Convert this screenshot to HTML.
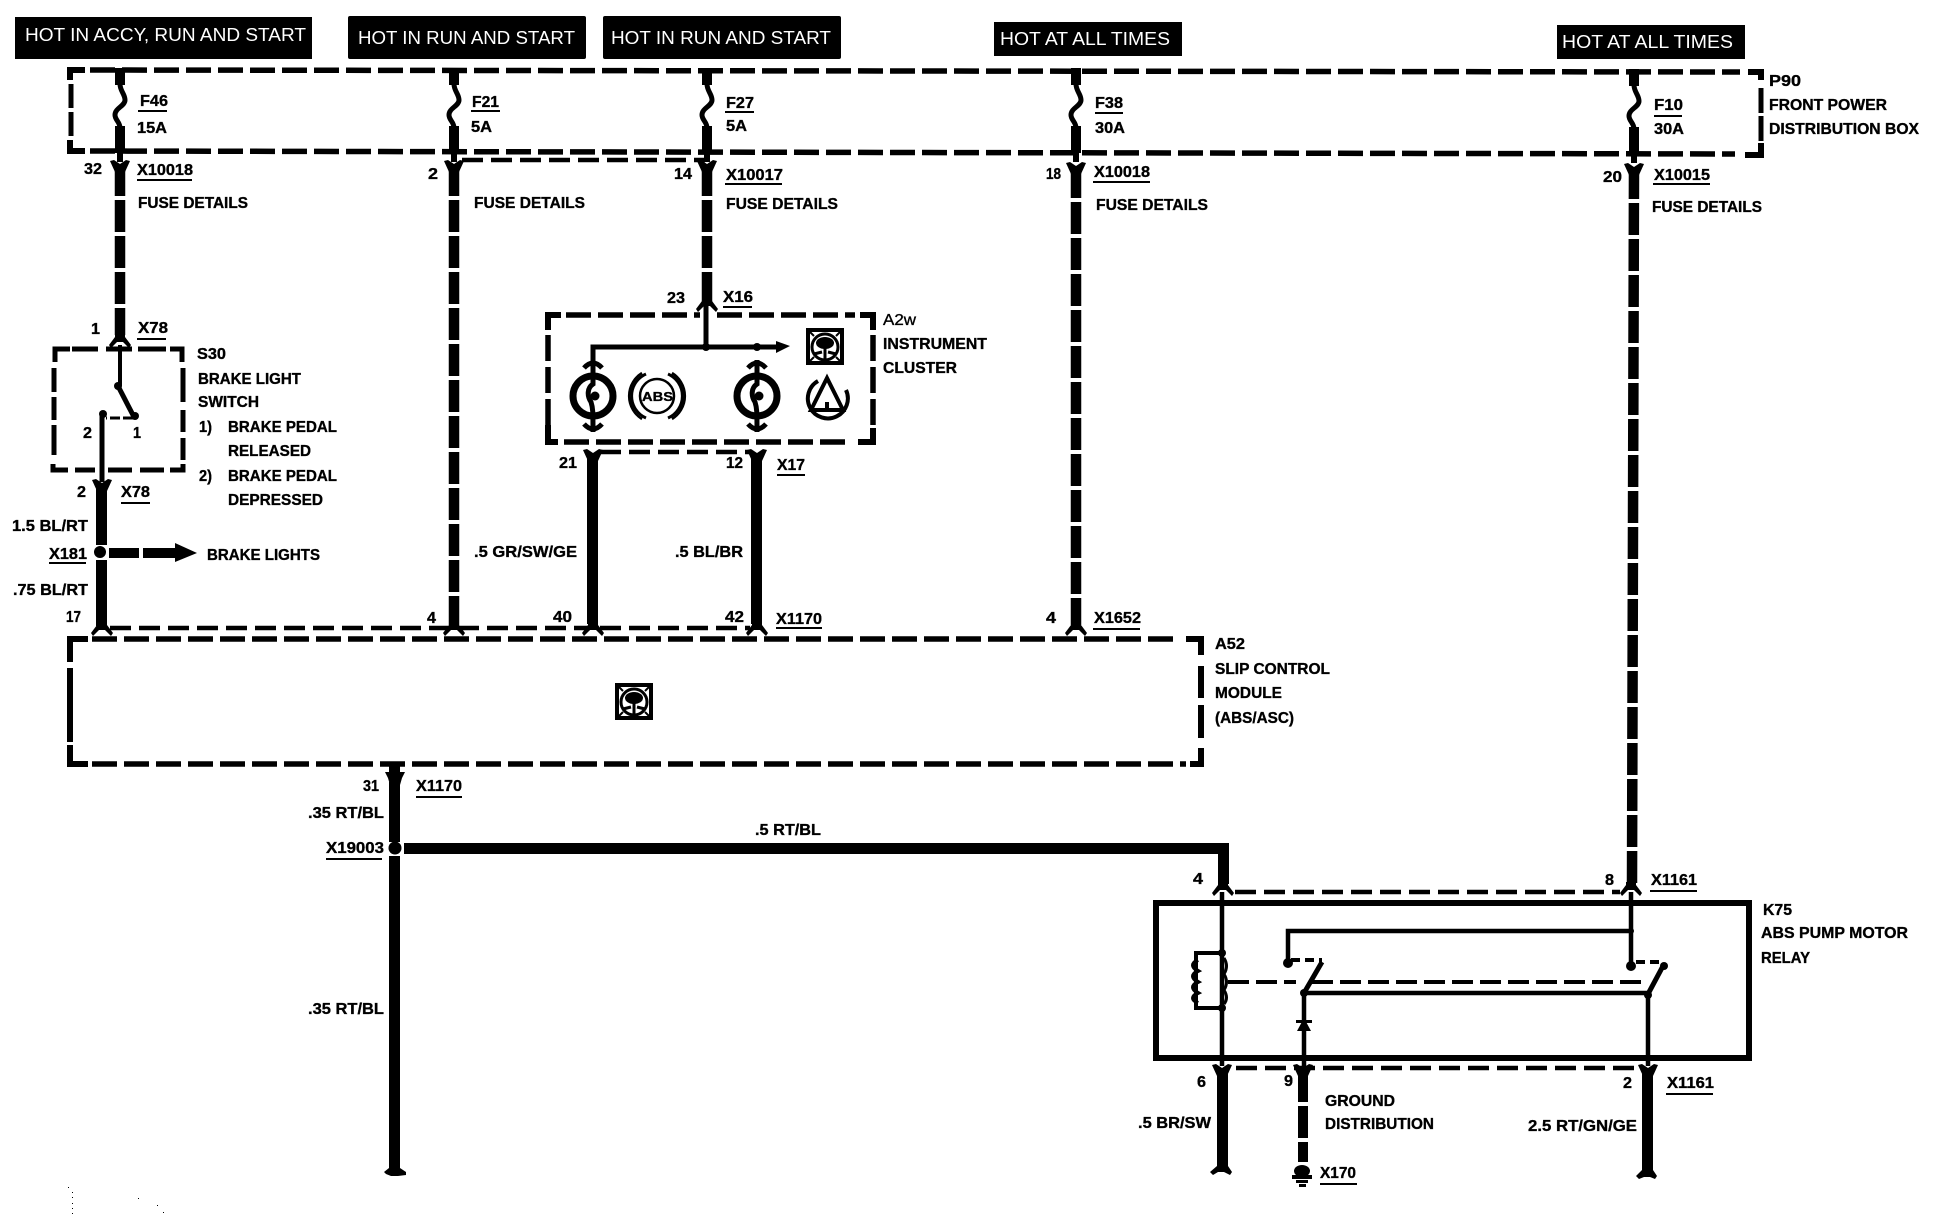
<!DOCTYPE html>
<html><head><meta charset="utf-8"><style>
html,body{margin:0;padding:0;background:#fff}
svg{display:block}
text{font-family:"Liberation Sans",sans-serif;font-weight:bold;font-size:16px;fill:#000;stroke:#000;stroke-width:.35}
.w{font-weight:normal;font-size:18px;fill:#fff;stroke:none}
.n{fill:none;stroke:#000}
.d{fill:none;stroke:#000;stroke-width:5.5;stroke-dasharray:25 7}
.dh{fill:none;stroke:#000;stroke-width:4.5;stroke-dasharray:21 8}
.b{fill:#000}
</style></head><body>
<svg width="1942" height="1216" viewBox="0 0 1942 1216" xmlns="http://www.w3.org/2000/svg">
<defs>
<g id="fuse">
<rect class="b" x="-5" y="68" width="10" height="17"/>
<path class="n" stroke-width="5" d="M0,84C0,91 5,94 5,100C5,106 -5,108 -5,115C-5,120 0,122 0,128"/>
<rect class="b" x="-5" y="126" width="10" height="27"/>
<rect class="b" x="-3" y="152" width="6" height="10"/>
</g>
<path id="fy" class="b" d="M-10,-4L-6,-5L0,-1L6,-5L10,-4L5,7L-5,7Z"/>
<path id="fu" class="b" d="M-5,-8L5,-8L5,-5L11,3L9,6L3,0L-3,0L-9,6L-11,3L-5,-5Z"/>
<g id="wheel">
<rect x="-17" y="-16" width="34" height="33" fill="#fff" stroke="#000" stroke-width="4"/>
<circle cx="0" cy="1" r="13" fill="none" stroke="#000" stroke-width="3"/>
<ellipse class="b" cx="0" cy="-3" rx="9" ry="6"/>
<path class="n" stroke-width="3" d="M0,2V14M-11,8L-3,6M11,8L3,6"/>
<path class="n" stroke-width="2" d="M-17,-16L-11,-10M17,-16L11,-10M-17,17L-11,11M17,17L11,11"/>
</g>
<g id="bulb">
<circle cx="0" cy="0" r="20" fill="none" stroke="#000" stroke-width="7"/>
<circle class="b" cx="2" cy="0" r="4.5"/>
<path class="n" stroke-width="5" d="M0,-36V-12C-6,-8 -6,0 -2,6C0,12 0,16 0,36"/>
<path class="n" stroke-width="5" d="M-9,-28Q0,-38 9,-28M-9,28Q0,38 9,28"/>
</g>
</defs>
<!-- banners -->
<rect class="b" x="15" y="17" width="297" height="42"/>
<rect class="b" x="348" y="16" width="238" height="43" rx="2"/>
<rect class="b" x="603" y="16" width="238" height="43" rx="2"/>
<rect class="b" x="994" y="22" width="188" height="34"/>
<rect class="b" x="1557" y="25" width="188" height="34"/>
<text class="w" x="25" y="41" textLength="281" lengthAdjust="spacingAndGlyphs">HOT IN ACCY, RUN AND START</text>
<text class="w" x="358" y="44" textLength="217" lengthAdjust="spacingAndGlyphs">HOT IN RUN AND START</text>
<text class="w" x="611" y="44" textLength="220" lengthAdjust="spacingAndGlyphs">HOT IN RUN AND START</text>
<text class="w" x="1000" y="45" textLength="170" lengthAdjust="spacingAndGlyphs">HOT AT ALL TIMES</text>
<text class="w" x="1562" y="48" textLength="171" lengthAdjust="spacingAndGlyphs">HOT AT ALL TIMES</text>

<!-- P90 box -->
<path class="d" d="M90,70L1740,72"/>
<path class="d" d="M90,151L1735,154"/>
<path class="n" stroke-width="6" d="M85,70H70V80M70,140V151H85M1748,72H1761V80M1761,143V155H1745"/>
<path class="n" stroke-width="5" d="M71,84V108M71,112V136M1761,88V113M1761,116V141"/>

<!-- fuses -->
<use href="#fuse" x="120"/><use href="#fuse" x="454"/><use href="#fuse" x="707"/><use href="#fuse" x="1076"/><use href="#fuse" x="1634" y="1"/>
<use href="#fy" x="120" y="165"/><use href="#fy" x="454" y="165"/><use href="#fy" x="707" y="165"/><use href="#fy" x="1076" y="167"/><use href="#fy" x="1634" y="168"/>
<path class="dh" d="M462,160H705"/>

<!-- long dashed wires -->
<g class="n" stroke-width="10.5" stroke-dasharray="32 4">
<path d="M120,164V335"/>
<path d="M454,164V625"/>
<path d="M707,164V302"/>
<path d="M1076,166V625"/>
<path d="M1634,167L1632,885"/>
</g>
<use href="#fu" x="120" y="342"/><use href="#fu" x="707" y="306"/><use href="#fu" x="102" y="630"/><use href="#fu" x="454" y="630"/><use href="#fu" x="593" y="630"/><use href="#fu" x="757" y="630"/><use href="#fu" x="1076" y="630"/>

<!-- S30 switch -->
<path class="n" stroke-width="5" d="M72,349H98M106,349H132M138,349H166"/>
<path class="n" stroke-width="5" d="M70,349H55V362M170,349H182V362M53,464V470H68M183,464V470H170"/>
<path class="n" stroke-width="5" d="M54,368V392M54,397V420M54,425V455M183,368V402M183,410V432M183,438V460M75,470H95M108,470H132M140,470H164"/>
<path class="n" stroke-width="4" d="M120,345V386"/>
<circle class="b" cx="118" cy="386" r="4"/>
<path class="n" stroke-width="5" d="M118,386L134,417"/>
<circle class="b" cx="135" cy="416" r="4"/>
<path class="n" stroke-width="3" stroke-dasharray="10 3" d="M133,418H106"/>
<circle class="b" cx="103" cy="414" r="4"/>
<path class="n" stroke-width="5" d="M102,414V482"/>
<use href="#fy" x="102" y="484"/>
<rect class="b" x="96" y="485" width="11" height="60"/>
<circle class="b" cx="100" cy="552" r="6"/>
<rect class="b" x="96" y="560" width="11" height="66"/>
<rect class="b" x="109" y="548" width="30" height="10"/><rect class="b" x="143" y="548" width="32" height="10"/>
<path class="b" d="M175,543L197,553L175,562Z"/>

<!-- harness -->
<path class="dh" d="M110,628H590"/>
<path class="dh" d="M600,628H750"/>
<path class="dh" d="M600,452H750"/>

<!-- A2w -->
<path class="n" stroke-width="6" d="M561,315H548V330M860,315H873V330M548,425V442H558M873,428V442H858"/>
<path class="d" d="M566,315H700M717,315H855"/>
<path class="d" d="M564,442H852"/>
<path class="n" stroke-width="5.5" d="M548,335V425M873,335V425" stroke-dasharray="26 6"/>
<path class="n" stroke-width="5" d="M706,305V347M593,360V347H777"/>
<circle class="b" cx="706" cy="347" r="4"/>
<circle class="b" cx="757" cy="347" r="4"/>
<path class="b" d="M776,341L790,346L776,353Z"/>
<use href="#bulb" x="593" y="396"/><use href="#bulb" x="757" y="396"/>
<circle cx="657" cy="396" r="17" fill="none" stroke="#000" stroke-width="2.5"/>
<path class="n" stroke-width="3" d="M646,374A24,24 0 0 0 646,418M668,374A24,24 0 0 1 668,418"/>
<path class="n" stroke-width="2.5" d="M642,373A27,27 0 0 0 642,419M672,373A27,27 0 0 1 672,419"/>
<text x="642" y="401" style="font-size:13px" textLength="31" lengthAdjust="spacingAndGlyphs">ABS</text>
<use href="#wheel" x="825" y="346"/>
<path class="n" stroke-width="4" d="M818,381A20,20 0 1 0 846,390"/>
<path class="n" stroke-width="4" d="M827,378L811,410H843Z"/>
<rect class="b" x="825" y="402" width="4" height="6"/>
<use href="#fy" x="593" y="454"/><use href="#fy" x="757" y="454"/>
<rect class="b" x="587" y="458" width="11" height="166"/>
<rect class="b" x="751" y="458" width="11" height="166"/>

<!-- A52 -->
<path class="n" stroke-width="6" d="M88,639H70V662M1186,639H1201V655M70,745V764H88M1201,748V764H1190"/>
<path class="d" d="M92,639H1180"/>
<path class="d" d="M92,764H1186"/>
<path class="n" stroke-width="6" d="M70,668V742M1201,666V698M1201,705V738"/>
<use href="#wheel" x="634" y="701"/>
<rect class="b" x="389" y="764" width="11" height="8"/>
<path class="b" d="M385,772L405,772L402,778L400,785H390L388,778Z"/>
<rect class="b" x="389" y="782" width="11" height="60"/>
<circle class="b" cx="395" cy="848" r="6.5"/>
<rect class="b" x="389" y="856" width="11" height="318"/>
<path class="b" d="M384,1172L389,1168H400L406,1172L406,1175L398,1176H391L386,1174Z"/>
<rect class="b" x="404" y="843" width="825" height="11"/>
<rect class="b" x="1218" y="848" width="11" height="36"/>
<use href="#fu" x="1223" y="890"/>
<use href="#fu" x="1631" y="890"/>

<!-- K75 -->
<rect x="1156" y="903" width="593" height="155" fill="none" stroke="#000" stroke-width="6"/>
<path class="dh" d="M1235,892H1620"/>
<path class="dh" d="M1236,1068H1636"/>
<path class="n" stroke-width="4.5" d="M1222,892V1066M1631,892V966M1288,963V931H1631M1304,993V1066M1648,993V1066M1304,993H1648"/>
<path class="n" stroke-width="4" d="M1222,953H1196V1008H1222"/>
<path class="n" stroke-width="4" d="M1198,960Q1188,965 1198,971Q1188,976 1198,982Q1188,987 1198,993Q1188,998 1198,1003"/>
<path class="n" stroke-width="3" d="M1224,958Q1229,966 1224,974Q1229,982 1224,990Q1229,998 1224,1004"/>
<circle class="b" cx="1222" cy="953" r="4"/><circle class="b" cx="1222" cy="1008" r="4"/>
<circle class="b" cx="1631" cy="931" r="3"/>
<circle class="b" cx="1288" cy="963" r="5"/><circle class="b" cx="1631" cy="966" r="5"/>
<circle class="b" cx="1304" cy="993" r="4"/><circle class="b" cx="1648" cy="995" r="4"/><circle class="b" cx="1664" cy="966" r="4"/>
<path class="n" stroke-width="4" stroke-dasharray="9 5" d="M1291,960H1322M1636,962H1662"/>
<path class="n" stroke-width="5" d="M1322,962L1304,993M1663,966L1648,994"/>
<path class="n" stroke-width="4" stroke-dasharray="21 7" d="M1228,982H1296M1312,982H1642"/>
<path class="b" d="M1304,1018L1297,1031H1311Z"/>
<rect class="b" x="1296" y="1020" width="16" height="3"/>
<use href="#fy" x="1222" y="1069"/><use href="#fy" x="1303" y="1069"/><use href="#fy" x="1648" y="1069"/>
<rect class="b" x="1217" y="1072" width="11" height="100"/>
<path class="b" d="M1210,1172L1217,1166H1228L1232,1172L1230,1175L1224,1172H1218L1213,1175Z"/>
<rect class="b" x="1298" y="1072" width="10" height="30"/>
<rect class="b" x="1298" y="1106" width="10" height="32"/>
<rect class="b" x="1298" y="1142" width="10" height="20"/>
<rect class="b" x="1642" y="1072" width="11" height="104"/>
<path class="b" d="M1636,1176L1642,1170H1653L1657,1176L1655,1179L1650,1177H1644L1639,1179Z"/>
<ellipse class="b" cx="1302" cy="1171" rx="8" ry="6"/>
<rect class="b" x="1292" y="1175" width="20" height="4"/><rect class="b" x="1296" y="1180" width="12" height="3"/><rect class="b" x="1299" y="1184" width="7" height="3"/>

<!-- labels -->
<g>
<text x="140" y="106" textLength="28" lengthAdjust="spacingAndGlyphs">F46</text><rect class="b" x="138" y="110" width="29" height="2"/>
<text x="137" y="133" textLength="30" lengthAdjust="spacingAndGlyphs">15A</text>
<text x="472" y="107" textLength="27" lengthAdjust="spacingAndGlyphs">F21</text><rect class="b" x="471" y="110" width="29" height="2"/>
<text x="471" y="132" textLength="21" lengthAdjust="spacingAndGlyphs">5A</text>
<text x="726" y="108" textLength="28" lengthAdjust="spacingAndGlyphs">F27</text><rect class="b" x="725" y="111" width="29" height="2"/>
<text x="726" y="131" textLength="21" lengthAdjust="spacingAndGlyphs">5A</text>
<text x="1095" y="108" textLength="28" lengthAdjust="spacingAndGlyphs">F38</text><rect class="b" x="1095" y="112" width="28" height="2"/>
<text x="1095" y="133" textLength="30" lengthAdjust="spacingAndGlyphs">30A</text>
<text x="1654" y="110" textLength="29" lengthAdjust="spacingAndGlyphs">F10</text><rect class="b" x="1654" y="115" width="28" height="2"/>
<text x="1654" y="134" textLength="30" lengthAdjust="spacingAndGlyphs">30A</text>

<text x="84" y="174" textLength="18" lengthAdjust="spacingAndGlyphs">32</text>
<text x="137" y="175" textLength="56" lengthAdjust="spacingAndGlyphs">X10018</text><rect class="b" x="137" y="179" width="55" height="2"/>
<text x="138" y="208" textLength="110" lengthAdjust="spacingAndGlyphs">FUSE DETAILS</text>
<text x="428" y="179" textLength="10" lengthAdjust="spacingAndGlyphs">2</text>
<text x="474" y="208" textLength="111" lengthAdjust="spacingAndGlyphs">FUSE DETAILS</text>
<text x="674" y="179" textLength="18" lengthAdjust="spacingAndGlyphs">14</text>
<text x="726" y="180" textLength="57" lengthAdjust="spacingAndGlyphs">X10017</text><rect class="b" x="725" y="183" width="57" height="2"/>
<text x="726" y="209" textLength="112" lengthAdjust="spacingAndGlyphs">FUSE DETAILS</text>
<text x="1046" y="179" textLength="15" lengthAdjust="spacingAndGlyphs">18</text>
<text x="1094" y="177" textLength="56" lengthAdjust="spacingAndGlyphs">X10018</text><rect class="b" x="1093" y="181" width="57" height="2"/>
<text x="1096" y="210" textLength="112" lengthAdjust="spacingAndGlyphs">FUSE DETAILS</text>
<text x="1603" y="182" textLength="19" lengthAdjust="spacingAndGlyphs">20</text>
<text x="1654" y="180" textLength="56" lengthAdjust="spacingAndGlyphs">X10015</text><rect class="b" x="1653" y="183" width="57" height="2"/>
<text x="1652" y="212" textLength="110" lengthAdjust="spacingAndGlyphs">FUSE DETAILS</text>

<text x="1769" y="86" textLength="32" lengthAdjust="spacingAndGlyphs">P90</text>
<text x="1769" y="110" textLength="118" lengthAdjust="spacingAndGlyphs">FRONT POWER</text>
<text x="1769" y="134" textLength="150" lengthAdjust="spacingAndGlyphs">DISTRIBUTION BOX</text>

<text x="91" y="334" textLength="9" lengthAdjust="spacingAndGlyphs">1</text>
<text x="138" y="333" textLength="30" lengthAdjust="spacingAndGlyphs">X78</text><rect class="b" x="137" y="338" width="29" height="2"/>
<text x="197" y="359" textLength="29" lengthAdjust="spacingAndGlyphs">S30</text>
<text x="198" y="384" textLength="103" lengthAdjust="spacingAndGlyphs">BRAKE LIGHT</text>
<text x="198" y="407" textLength="61" lengthAdjust="spacingAndGlyphs">SWITCH</text>
<text x="199" y="432" textLength="13" lengthAdjust="spacingAndGlyphs">1)</text>
<text x="228" y="432" textLength="109" lengthAdjust="spacingAndGlyphs">BRAKE PEDAL</text>
<text x="228" y="456" textLength="83" lengthAdjust="spacingAndGlyphs">RELEASED</text>
<text x="199" y="481" textLength="13" lengthAdjust="spacingAndGlyphs">2)</text>
<text x="228" y="481" textLength="109" lengthAdjust="spacingAndGlyphs">BRAKE PEDAL</text>
<text x="228" y="505" textLength="95" lengthAdjust="spacingAndGlyphs">DEPRESSED</text>
<text x="83" y="438" textLength="9" lengthAdjust="spacingAndGlyphs">2</text>
<text x="133" y="438" textLength="8" lengthAdjust="spacingAndGlyphs">1</text>
<text x="77" y="497" textLength="9" lengthAdjust="spacingAndGlyphs">2</text>
<text x="121" y="497" textLength="29" lengthAdjust="spacingAndGlyphs">X78</text><rect class="b" x="121" y="502" width="29" height="2"/>
<text x="12" y="531" textLength="76" lengthAdjust="spacingAndGlyphs">1.5 BL/RT</text>
<text x="49" y="559" textLength="38" lengthAdjust="spacingAndGlyphs">X181</text><rect class="b" x="49" y="562" width="37" height="2"/>
<text x="13" y="595" textLength="75" lengthAdjust="spacingAndGlyphs">.75 BL/RT</text>
<text x="66" y="622" textLength="15" lengthAdjust="spacingAndGlyphs">17</text>
<text x="207" y="560" textLength="113" lengthAdjust="spacingAndGlyphs">BRAKE LIGHTS</text>

<text x="667" y="303" textLength="18" lengthAdjust="spacingAndGlyphs">23</text>
<text x="723" y="302" textLength="30" lengthAdjust="spacingAndGlyphs">X16</text><rect class="b" x="723" y="306" width="29" height="2"/>
<text x="883" y="325" style="font-weight:normal" textLength="33" lengthAdjust="spacingAndGlyphs">A2w</text>
<text x="883" y="349" textLength="104" lengthAdjust="spacingAndGlyphs">INSTRUMENT</text>
<text x="883" y="373" textLength="74" lengthAdjust="spacingAndGlyphs">CLUSTER</text>
<text x="559" y="468" textLength="18" lengthAdjust="spacingAndGlyphs">21</text>
<text x="726" y="468" textLength="17" lengthAdjust="spacingAndGlyphs">12</text>
<text x="777" y="470" textLength="28" lengthAdjust="spacingAndGlyphs">X17</text><rect class="b" x="777" y="474" width="28" height="2"/>
<text x="474" y="557" textLength="103" lengthAdjust="spacingAndGlyphs">.5 GR/SW/GE</text>
<text x="675" y="557" textLength="68" lengthAdjust="spacingAndGlyphs">.5 BL/BR</text>
<text x="427" y="623" textLength="9" lengthAdjust="spacingAndGlyphs">4</text>
<text x="553" y="622" textLength="19" lengthAdjust="spacingAndGlyphs">40</text>
<text x="725" y="622" textLength="19" lengthAdjust="spacingAndGlyphs">42</text>
<text x="776" y="624" textLength="46" lengthAdjust="spacingAndGlyphs">X1170</text><rect class="b" x="776" y="627" width="46" height="2"/>
<text x="1046" y="623" textLength="10" lengthAdjust="spacingAndGlyphs">4</text>
<text x="1094" y="623" textLength="47" lengthAdjust="spacingAndGlyphs">X1652</text><rect class="b" x="1093" y="628" width="47" height="2"/>
<text x="1215" y="649" textLength="30" lengthAdjust="spacingAndGlyphs">A52</text>
<text x="1215" y="674" textLength="115" lengthAdjust="spacingAndGlyphs">SLIP CONTROL</text>
<text x="1215" y="698" textLength="67" lengthAdjust="spacingAndGlyphs">MODULE</text>
<text x="1215" y="723" textLength="79" lengthAdjust="spacingAndGlyphs">(ABS/ASC)</text>

<text x="363" y="791" textLength="16" lengthAdjust="spacingAndGlyphs">31</text>
<text x="416" y="791" textLength="46" lengthAdjust="spacingAndGlyphs">X1170</text><rect class="b" x="416" y="796" width="46" height="2"/>
<text x="308" y="818" textLength="76" lengthAdjust="spacingAndGlyphs">.35 RT/BL</text>
<text x="326" y="853" textLength="58" lengthAdjust="spacingAndGlyphs">X19003</text><rect class="b" x="326" y="858" width="56" height="2"/>
<text x="755" y="835" textLength="66" lengthAdjust="spacingAndGlyphs">.5 RT/BL</text>
<text x="308" y="1014" textLength="76" lengthAdjust="spacingAndGlyphs">.35 RT/BL</text>

<text x="1193" y="884" textLength="10" lengthAdjust="spacingAndGlyphs">4</text>
<text x="1605" y="885" textLength="9" lengthAdjust="spacingAndGlyphs">8</text>
<text x="1651" y="885" textLength="46" lengthAdjust="spacingAndGlyphs">X1161</text><rect class="b" x="1650" y="890" width="47" height="2"/>
<text x="1763" y="915" textLength="29" lengthAdjust="spacingAndGlyphs">K75</text>
<text x="1761" y="938" textLength="147" lengthAdjust="spacingAndGlyphs">ABS PUMP MOTOR</text>
<text x="1761" y="963" textLength="49" lengthAdjust="spacingAndGlyphs">RELAY</text>
<text x="1197" y="1087" textLength="9" lengthAdjust="spacingAndGlyphs">6</text>
<text x="1284" y="1086" textLength="9" lengthAdjust="spacingAndGlyphs">9</text>
<text x="1623" y="1088" textLength="9" lengthAdjust="spacingAndGlyphs">2</text>
<text x="1667" y="1088" textLength="47" lengthAdjust="spacingAndGlyphs">X1161</text><rect class="b" x="1666" y="1093" width="47" height="2"/>
<text x="1325" y="1106" textLength="70" lengthAdjust="spacingAndGlyphs">GROUND</text>
<text x="1325" y="1129" textLength="109" lengthAdjust="spacingAndGlyphs">DISTRIBUTION</text>
<text x="1138" y="1128" textLength="73" lengthAdjust="spacingAndGlyphs">.5 BR/SW</text>
<text x="1528" y="1131" textLength="109" lengthAdjust="spacingAndGlyphs">2.5 RT/GN/GE</text>
<text x="1320" y="1178" textLength="36" lengthAdjust="spacingAndGlyphs">X170</text><rect class="b" x="1320" y="1183" width="37" height="2"/>
</g>
<!-- specks -->
<g class="b"><rect x="68" y="1187" width="1" height="1"/><rect x="72" y="1192" width="1" height="1"/><rect x="72" y="1197" width="1" height="1"/><rect x="72" y="1203" width="1" height="1"/><rect x="72" y="1208" width="1" height="1"/><rect x="72" y="1213" width="1" height="1"/><rect x="138" y="1198" width="1" height="1"/><rect x="157" y="1205" width="1" height="1"/><rect x="163" y="1212" width="1" height="1"/></g>
</svg>
</body></html>
